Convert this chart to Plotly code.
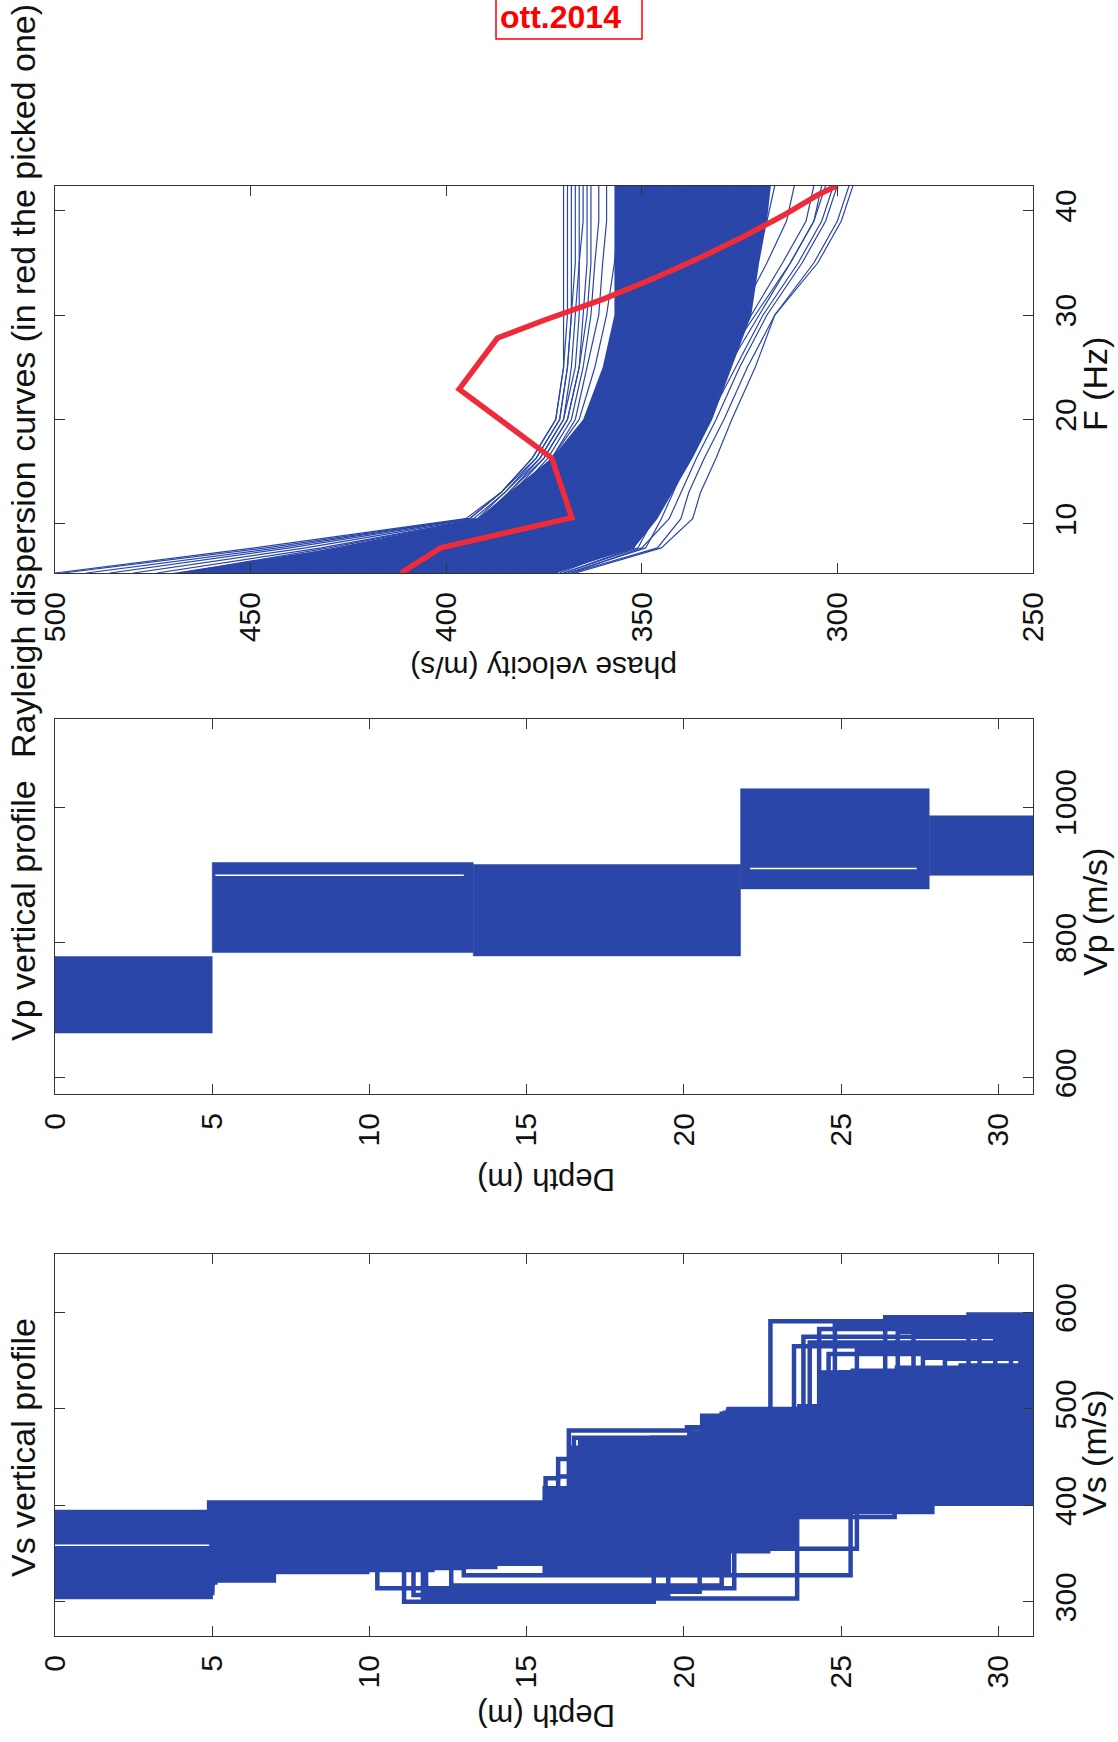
import plotly.graph_objects as go

W, H = 1118, 1742
BLUE = "#2a46a8"
RED = "#ef2b3a"
AXC = "#333333"
FONT = "Liberation Sans, Arial, Helvetica, sans-serif"

# ---------------- Rayleigh dispersion curves ----------------
freq = [5.3, 7.7, 10.5, 13, 16.3, 20, 25, 30, 35, 39, 42.4]

curves_fast = [
    [500, 449, 395, 386, 378, 372, 370, 370, 370, 370, 370],
    [498, 446, 394, 386, 378, 372, 370, 369, 369, 369, 369],
    [492, 443, 394, 386, 377, 371, 369, 368, 368, 368, 368],
    [486, 440, 393, 385, 377, 371, 369, 368, 367, 367, 367],
    [480, 436, 392, 385, 376, 370, 368, 367, 366, 366, 366],
    [474, 432, 391, 384, 376, 370, 367, 366, 366, 365, 365],
    [468, 430, 391, 384, 375, 369, 366, 365, 364, 364, 364],
    [462, 428, 390, 383, 375, 369, 366, 364, 363, 363, 363],
    [455, 425, 390, 382, 374, 368, 365, 363, 362, 361, 361],
    [448, 421, 389, 381, 373, 367, 364, 361, 360, 359, 359],
    [440, 418, 388, 381, 373, 366, 362, 359, 357, 356, 356],
]
curves_core = [
    [430, 410, 386, 379, 371, 364, 359, 355, 352, 350, 349],
    [420, 402, 384, 377, 369, 362, 357, 352, 349, 347, 346],
    [412, 396, 382, 375, 367, 360, 354, 349, 346, 343, 342],
    [405, 390, 380, 373, 365, 358, 352, 347, 343, 340, 339],
    [398, 385, 378, 371, 363, 356, 350, 345, 341, 338, 336],
    [392, 380, 375, 369, 361, 354, 348, 343, 339, 335, 334],
    [388, 376, 372, 366, 359, 352, 346, 341, 337, 333, 331],
    [384, 372, 369, 364, 357, 350, 344, 339, 334, 330, 328],
    [380, 368, 366, 361, 355, 348, 342, 336, 331, 327, 325],
    [377, 364, 363, 358, 352, 346, 340, 334, 328, 324, 322],
    [375, 361, 360, 355, 350, 344, 338, 331, 325, 321, 319],
    [373, 358, 357, 352, 347, 342, 335, 328, 322, 318, 316],
]
curves_slow = [
    [372, 356, 351, 347, 342, 337, 330, 321, 312, 306, 303],
    [371, 355, 353, 349, 344, 339, 332, 325, 318, 313, 311],
    [370, 352, 349, 346, 341, 336, 329, 322, 314, 308, 306],
    [370, 351, 347, 344, 340, 335, 328, 320, 312, 306, 304],
    [369, 349, 345, 342, 338, 333, 326, 319, 310, 304, 301],
    [368, 350, 343, 340, 336, 331, 325, 318, 309, 303, 300],
    [368, 346, 340, 338, 334, 329, 323, 316, 306, 300, 297],
    [367, 345, 337, 335, 331, 327, 321, 316, 305, 299, 296],
]

# densest part of the ensemble (upper / lower phase velocity)
core_hi = [470, 428, 392, 384, 373, 365, 360, 357, 357, 357, 357]
core_lo = [372, 352, 346, 342, 337, 332, 327, 322, 320, 318, 317]

# picked curve
picked_f = [5.3, 7.7, 10.6, 16.3, 22.9, 27.8, 29.5, 31.5, 33.5, 35.5, 37.5, 39.5, 41.5, 42.4]
picked_v = [411.6, 401.4, 367.9, 373.0, 396.7, 386.9, 375, 360, 347, 335, 324, 314, 305, 300]

# ---------------- Vp ensemble (layer envelopes) ----------------
vp_top = [0, 5.0, 13.3, 21.8, 27.8]
vp_bot = [5.0, 13.3, 21.8, 27.8, 31.5]
vp_min = [666, 785, 780, 879, 899]
vp_max = [779, 918, 915, 1027, 987]
vp_gap_from = [5.1, 22.1]
vp_gap_to = [13.0, 27.4]
vp_gap_v = [899, 909]

# ---------------- Vs ensemble (4-layer models) ----------------
vs_b1 = [4.90, 5.00, 4.95, 5.00, 4.95, 5.00, 4.95, 5.00, 5.00, 4.95, 5.00, 4.95, 5.00, 5.00, 4.95,
         4.95, 5.10, 5.00, 5.00, 4.95, 5.00, 5.00, 5.00, 5.00, 5.00, 5.00, 5.00, 4.95, 5.00, 5.00,
         5.00, 5.00, 5.00, 5.00, 4.95, 5.00, 5.00, 4.95, 5.00, 5.00]
vs_b2 = [15.6, 16.34, 16.5, 16.8, 21.5, 20.2, 16.7, 17.1, 16.8, 17.5, 17.9, 18.7, 19.2, 15.0, 13.0,
         6.96, 9.93, 10.25, 11.1, 11.7, 11.4, 13.0, 12.4, 14.0, 15.5, 12.0, 20.6, 21.0, 19.0, 18.2,
         11.8, 12.6, 20.8, 21.2, 20.9, 21.4, 20.7, 21.0, 21.3, 20.9]
vs_b3 = [16.0, 20.1, 20.58, 21.42, 22.75, 29.05, 23.5, 24.3, 23.8, 24.0, 24.6, 25.0, 25.5, 26.0, 22.0,
         16.0, 20.0, 21.6, 19.04, 23.6, 19.5, 25.3, 25.5, 26.7, 27.9, 21.6, 26.8, 27.6, 28.8, 30.4,
         20.5, 21.2, 24.8, 25.5, 26.4, 27.3, 28.3, 29.4, 29.9, 30.7]
vs_v1 = [393, 388, 385, 380, 376, 368, 365, 362, 359, 356, 352, 348, 345, 341, 310,
         305, 320, 330, 335, 340, 332, 330, 325, 318, 312, 309, 372, 370, 366, 363,
         334, 336, 371, 369, 367, 364, 362, 360, 357, 355]
vs_v2 = [403, 400, 398, 396, 392, 388, 395, 393, 390, 385, 382, 380, 378, 375, 335,
         322, 331, 340, 345, 350, 338, 345, 340, 336, 345, 333, 392, 390, 386, 384,
         342, 348, 391, 389, 387, 385, 383, 381, 380, 379]
vs_v3 = [428, 477.6, 470, 462, 497, 480, 466, 452, 440, 430, 420, 410, 400, 395, 365,
         345, 350, 314, 300, 303.5, 307, 327.6, 355, 388, 393, 376, 488, 478, 470, 460,
         310.5, 317, 490, 495, 485, 498, 492, 486, 496, 483]
vs_v4 = [448, 481, 493, 500, 591, 598, 565, 583, 575, 569, 557, 538, 527, 512, 405,
         430, 445, 455, 420, 460, 430, 440, 420, 410, 401.7, 484, 580, 553, 545, 560,
         450, 470, 587, 561, 595, 579, 552, 587, 571, 548]
vs_max_depth = 31.5

# densest part of the Vs ensemble, per depth interval
vs_core_edges = [0, 4.95, 6.96, 10.0, 15.5, 16.4, 20.1, 21.5, 22.75, 23.6, 24.3, 25.3, 26.7, 27.9, 31.5]
vs_core_top = [392, 401, 401, 401, 420, 462, 478, 490, 500, 505, 540, 542, 545, 545]
vs_core_bot = [306, 323, 332, 337, 326, 326, 326, 350, 356, 388, 388, 392, 395, 404]
vs_gap_from = [0.0]
vs_gap_to = [4.9]
vs_gap_v = [358.6]


def step_polygon(edges, top, bot):
    xs, ys = [], []
    for i in range(len(top)):
        xs += [edges[i], edges[i + 1]]
        ys += [top[i], top[i]]
    for i in reversed(range(len(bot))):
        xs += [edges[i + 1], edges[i]]
        ys += [bot[i], bot[i]]
    return xs + [xs[0]], ys + [ys[0]]


fig = go.Figure()

# --- dispersion panel: x = phase velocity, y = frequency
fig.add_trace(go.Scatter(
    x=core_hi + core_lo[::-1] + [core_hi[0]], y=freq + freq[::-1] + [freq[0]],
    mode="lines", fill="toself", fillcolor=BLUE, line=dict(width=0, color=BLUE),
    hoverinfo="skip", xaxis="x", yaxis="y"))
for group in (curves_fast, curves_core, curves_slow):
    for vel in group:
        fig.add_trace(go.Scatter(x=vel, y=freq, mode="lines",
                                 line=dict(color=BLUE, width=1.2),
                                 xaxis="x", yaxis="y"))
fig.add_trace(go.Scatter(x=picked_v, y=picked_f, mode="lines",
                         line=dict(color=RED, width=5.5), xaxis="x", yaxis="y"))

# --- Vp panel: x = depth, y = Vp
for t, b, lo, hi in zip(vp_top, vp_bot, vp_min, vp_max):
    fig.add_trace(go.Scatter(x=[t, b, b, t, t], y=[lo, lo, hi, hi, lo], mode="lines",
                             fill="toself", fillcolor=BLUE, line=dict(width=0.5, color=BLUE),
                             xaxis="x2", yaxis="y2"))
for a, b, v in zip(vp_gap_from, vp_gap_to, vp_gap_v):
    fig.add_trace(go.Scatter(x=[a, b], y=[v, v], mode="lines",
                             line=dict(color="white", width=1.5), xaxis="x2", yaxis="y2"))

# --- Vs panel: x = depth, y = Vs
cx, cy = step_polygon(vs_core_edges, vs_core_top, vs_core_bot)
fig.add_trace(go.Scatter(x=cx, y=cy, mode="lines", fill="toself", fillcolor=BLUE,
                         line=dict(width=0, color=BLUE), xaxis="x3", yaxis="y3"))
for b1, b2, b3, v1, v2, v3, v4 in zip(vs_b1, vs_b2, vs_b3, vs_v1, vs_v2, vs_v3, vs_v4):
    fig.add_trace(go.Scatter(x=[0, b1, b2, b3, vs_max_depth], y=[v1, v2, v3, v4, v4],
                             mode="lines", line=dict(color=BLUE, width=4.5, shape="hv"),
                             xaxis="x3", yaxis="y3"))
for a, b, v in zip(vs_gap_from, vs_gap_to, vs_gap_v):
    fig.add_trace(go.Scatter(x=[a, b], y=[v, v], mode="lines",
                             line=dict(color="white", width=1.5), xaxis="x3", yaxis="y3"))

XDOM = [55 / W, 1033 / W]


def ydom(top_px, bot_px):
    return [1 - bot_px / H, 1 - top_px / H]


axis_style = dict(showline=True, linecolor=AXC, linewidth=1.2, mirror="ticks",
                  ticks="inside", ticklen=10, tickwidth=1, tickcolor=AXC,
                  showgrid=False, zeroline=False, tickangle=-90, automargin=False,
                  tickfont=dict(family=FONT, size=30, color="#111111"),
                  ticklabelstandoff=6)

fig.update_layout(
    width=W, height=H, margin=dict(l=0, r=0, t=0, b=0, pad=0, autoexpand=False),
    paper_bgcolor="white", plot_bgcolor="white", showlegend=False,
    font=dict(family=FONT, color="#111111"),
    xaxis=dict(domain=XDOM, anchor="y", range=[500, 250],
               tickvals=[250, 300, 350, 400, 450, 500], **axis_style),
    yaxis=dict(domain=ydom(186, 573), anchor="x", side="right", range=[5.3, 42.35],
               tickvals=[10, 20, 30, 40], **axis_style),
    xaxis2=dict(domain=XDOM, anchor="y2", range=[0, 31.1],
                tickvals=[0, 5, 10, 15, 20, 25, 30], **axis_style),
    yaxis2=dict(domain=ydom(719, 1094), anchor="x2", side="right", range=[576, 1130],
                tickvals=[600, 800, 1000], **axis_style),
    xaxis3=dict(domain=XDOM, anchor="y3", range=[0, 31.1],
                tickvals=[0, 5, 10, 15, 20, 25, 30], **axis_style),
    yaxis3=dict(domain=ydom(1254, 1636), anchor="x3", side="right", range=[264.5, 660.7],
                tickvals=[300, 400, 500, 600], **axis_style),
)


def label(text, x_px, y_px, angle, size=34, color="#111111", bold=False):
    fig.add_annotation(text=f"<b>{text}</b>" if bold else text,
                       x=x_px / W, y=1 - y_px / H, xref="paper", yref="paper",
                       xanchor="center", yanchor="middle", showarrow=False,
                       textangle=angle, font=dict(family=FONT, size=size, color=color))


label("Rayleigh dispersion curves (in red the picked one)", 23, 381, -90)
label("Vp vertical profile", 23, 911, -90)
label("Vs vertical profile", 23, 1448, -90)
label("F (Hz)", 1095, 384, -90)
label("Vp (m/s)", 1095, 912, -90)
label("Vs (m/s)", 1094, 1453, -90)
label("phase velocity (m/s)", 544, 668, 180, size=30)
label("Depth (m)", 546, 1180, 180, size=31)
label("Depth (m)", 546, 1716, 180, size=31)

# date tag
label("ott.2014", 560, 17, 0, size=32, color="#ff0000", bold=True)
fig.add_shape(type="rect", xref="paper", yref="paper",
              x0=496 / W, x1=642 / W, y0=1 - 39 / H, y1=1 + 10 / H,
              line=dict(color="#ff0000", width=1.5))

fig.write_html("out.html")
